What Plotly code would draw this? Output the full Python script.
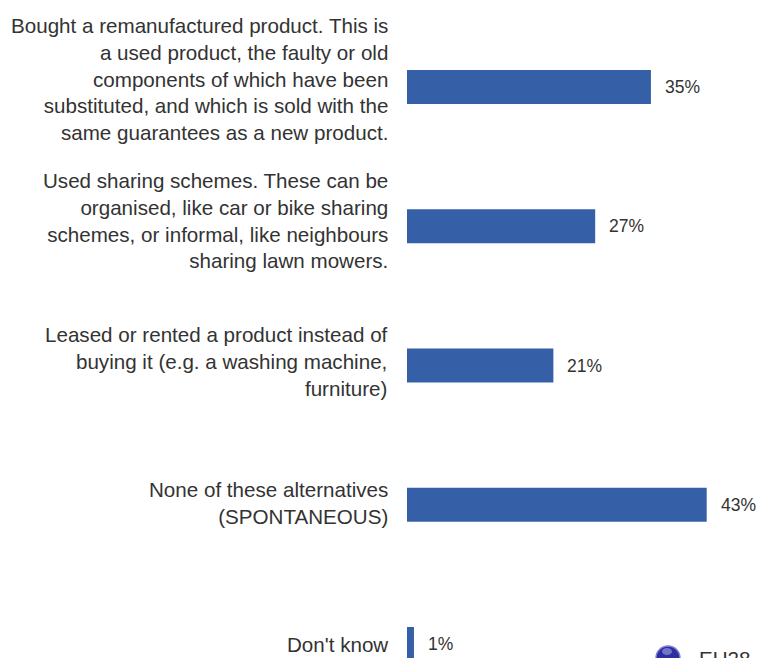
import plotly.graph_objects as go

# Survey answers (EU28) and share of respondents, in %
categories = [
    "Bought a remanufactured product. This is<br>a used product, the faulty or old<br>components of which have been<br>substituted, and which is sold with the<br>same guarantees as a new product.",
    "Used sharing schemes. These can be<br>organised, like car or bike sharing<br>schemes, or informal, like neighbours<br>sharing lawn mowers.",
    "Leased or rented a product instead of<br>buying it (e.g. a washing machine,<br>furniture)",
    "None of these alternatives<br>(SPONTANEOUS)",
    "Don't know",
]
values = [35, 27, 21, 43, 1]
series_name = "EU28"

BAR_COLOR = "#3560a8"
TEXT_COLOR = "#333333"
FONT = "Liberation Sans, Arial, sans-serif"

positions = list(range(len(categories)))

fig = go.Figure()
fig.add_trace(go.Bar(
    x=values,
    y=positions,
    orientation="h",
    width=0.245,
    marker=dict(color=BAR_COLOR, line=dict(width=0)),
    name=series_name,
    showlegend=False,
    hoverinfo="skip",
))

annotations = []
for pos, label, val in zip(positions, categories, values):
    n_lines = label.count("<br>") + 1
    annotations.append(dict(
        x=0, y=pos, xref="x", yref="y",
        text=label, showarrow=False,
        xanchor="right", yanchor="middle", align="right",
        xshift=-17, yshift=2 * (n_lines - 1),
        font=dict(family=FONT, size=20.6, color=TEXT_COLOR),
    ))
    annotations.append(dict(
        x=val, y=pos, xref="x", yref="y",
        text=f"{val}%", showarrow=False,
        xanchor="left", yanchor="middle",
        xshift=12,
        font=dict(family=FONT, size=17.5, color=TEXT_COLOR),
    ))

# legend key: round EU badge followed by the series name
annotations.append(dict(
    x=0.826, y=0, xref="paper", yref="paper",
    text=series_name, showarrow=False,
    xanchor="left", yanchor="middle",
    font=dict(family=FONT, size=20.6, color=TEXT_COLOR),
))
shapes = [
    dict(type="circle", xref="paper", yref="paper",
         xsizemode="pixel", ysizemode="pixel",
         xanchor=0.7436, yanchor=0,
         x0=-12, x1=12, y0=-12, y1=12,
         fillcolor="#2e2f9c", line=dict(color="#7d80d6", width=1.5)),
    dict(type="circle", xref="paper", yref="paper",
         xsizemode="pixel", ysizemode="pixel",
         xanchor=0.7436, yanchor=0,
         x0=-6, x1=4, y0=3, y1=10,
         fillcolor="rgba(170,175,240,0.55)", line=dict(width=0)),
]

fig.update_layout(
    width=758, height=658,
    margin=dict(l=407, r=0, t=0, b=0, autoexpand=False),
    paper_bgcolor="white",
    plot_bgcolor="white",
    xaxis=dict(range=[0, 50.36], visible=False, fixedrange=True),
    yaxis=dict(range=[4.10, -0.625], visible=False, fixedrange=True),
    annotations=annotations,
    shapes=shapes,
    showlegend=False,
)

fig.write_html("out.html")
